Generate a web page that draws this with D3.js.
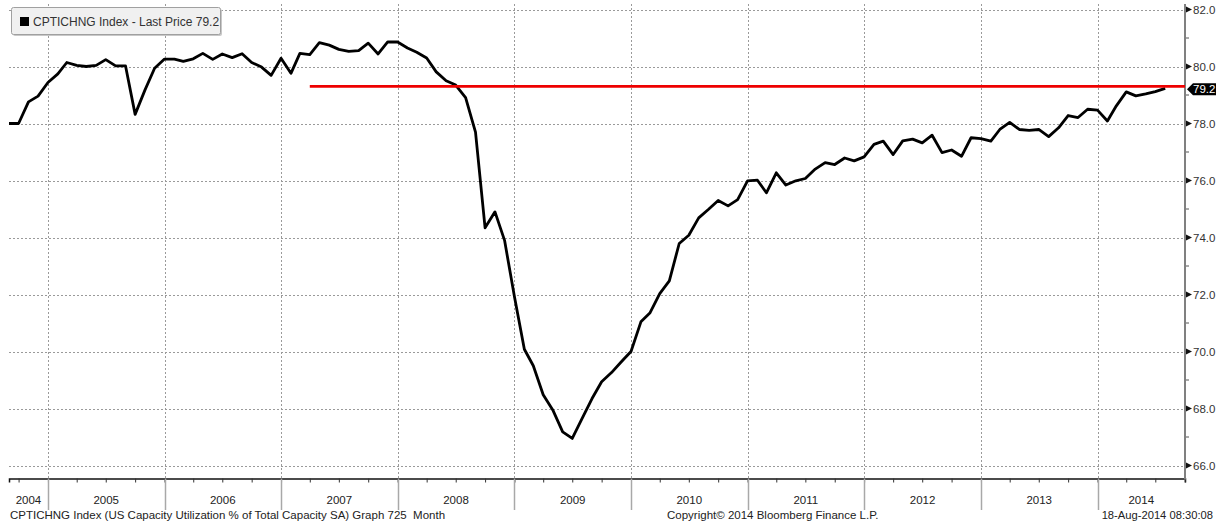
<!DOCTYPE html>
<html>
<head>
<meta charset="utf-8">
<script src="https://cdn.jsdelivr.net/npm/d3@7"></script>
<style>
  html, body { margin: 0; padding: 0; background: #fff; }
  svg { display: block; font-family: "Liberation Sans", Arial, sans-serif; }
  .footer { white-space: pre; }
</style>
</head>
<body>
<svg id="chart" width="1216" height="521"></svg>
<script>
// --- data (monthly, plotted at month boundaries as on the terminal) ---
const firstMonth = "2004-09";
const capUtil = [
  78.0, 78.0, 78.76, 78.96,
  79.44, 79.74, 80.14, 80.04, 80.0, 80.04, 80.24, 80.02, 80.02, 78.32, 79.18, 79.94,
  80.26, 80.26, 80.18, 80.27, 80.46, 80.25, 80.44, 80.31, 80.45, 80.14, 79.98, 79.69,
  80.29, 79.76, 80.46, 80.42, 80.84, 80.75, 80.6, 80.53, 80.56, 80.82, 80.44, 80.86,
  80.86, 80.65, 80.5, 80.3, 79.81, 79.5, 79.35, 78.91, 77.7, 74.34, 74.9, 73.9,
  71.92, 70.08, 69.5, 68.48, 67.95, 67.18, 66.95, 67.65, 68.35, 68.94, 69.26, 69.63,
  70.0, 71.04, 71.35, 72.03, 72.48, 73.79, 74.08, 74.69, 74.99, 75.3, 75.11, 75.33,
  75.99, 76.01, 75.57, 76.27, 75.84, 75.99, 76.07, 76.4, 76.63, 76.56, 76.79, 76.69,
  76.83, 77.27, 77.38, 76.91, 77.39, 77.45, 77.32, 77.59, 76.98, 77.07, 76.85, 77.5,
  77.47, 77.38, 77.79, 78.04, 77.79, 77.76, 77.79, 77.54, 77.85, 78.28, 78.21, 78.5,
  78.47, 78.09, 78.62, 79.11, 78.97, 79.04, 79.12, 79.23
];
const yTicks = [66, 68, 70, 72, 74, 76, 78, 80, 82];
const yMinorTicks = [67, 69, 71, 73, 75, 77, 79, 81];
const yearLabels = ["2004", "2005", "2006", "2007", "2008", "2009", "2010", "2011", "2012", "2013", "2014"];
const lastPrice = 79.2;
const redLineLevel = 79.3;
const redLineFrom = "2007-04";
const legendText = "CPTICHNG Index - Last Price 79.2";
const footerLeft = "CPTICHNG Index (US Capacity Utilization % of Total Capacity SA) Graph 725  Month";
const footerMid = "Copyright\u00A9 2014 Bloomberg Finance L.P.";
const footerRight = "18-Aug-2014 08:30:08";

// --- layout ---
const plot = { left: 9, right: 1185, top: 4, bottom: 478.5 };
const parseMonth = d3.timeParse("%Y-%m");
const start = parseMonth(firstMonth);
const dates = d3.timeMonth.range(start, d3.timeMonth.offset(start, capUtil.length));
const series = dates.map((d, i) => ({ date: d, v: capUtil[i] }));

const x = d3.scaleTime()
  .domain([new Date(2004, 8, 1), new Date(2014, 9, 2)])
  .range([plot.left, plot.right]);
const y = d3.scaleLinear()
  .domain([66, 82])
  .range([465.5, 9.5]);

const svg = d3.select("#chart");

// gridlines
const yearStarts = yearLabels.slice(1).map(s => parseMonth(s + "-01"));
svg.append("g").selectAll("line")
  .data(yTicks)
  .join("line")
  .attr("x1", plot.left).attr("x2", plot.right)
  .attr("y1", d => Math.round(y(d)) + 0.5).attr("y2", d => Math.round(y(d)) + 0.5)
  .attr("stroke", "#9a9a9a").attr("stroke-dasharray", "2,2");
svg.append("g").selectAll("line")
  .data(yearStarts)
  .join("line")
  .attr("x1", d => Math.round(x(d)) + 0.5).attr("x2", d => Math.round(x(d)) + 0.5)
  .attr("y1", plot.top).attr("y2", plot.bottom)
  .attr("stroke", "#9a9a9a").attr("stroke-dasharray", "2,2");

// x axis: quarterly ticks
const xAxis = d3.axisBottom(x)
  .tickValues(d3.timeMonth.every(3).range(new Date(2004, 9, 1), new Date(2014, 10, 1)))
  .tickSize(4)
  .tickFormat("");
const gx = svg.append("g")
  .attr("transform", `translate(0,${plot.bottom})`)
  .call(xAxis);
gx.select(".domain").attr("stroke", "#111").attr("stroke-width", 1.5);
gx.selectAll(".tick line").attr("stroke", "#333");

// year separators and labels
svg.append("g").selectAll("line")
  .data(yearStarts)
  .join("line")
  .attr("x1", d => Math.round(x(d)) + 0.5).attr("x2", d => Math.round(x(d)) + 0.5)
  .attr("y1", plot.bottom).attr("y2", 510)
  .attr("stroke", "#a8a8a8").attr("stroke-width", 1.5);
svg.append("g").selectAll("text")
  .data(yearLabels)
  .join("text")
  .attr("x", d => {
    const a = Math.max(x(parseMonth(d + "-01")), plot.left);
    const b = Math.min(x(parseMonth((+d + 1) + "-01")), plot.right);
    return (a + b) / 2;
  })
  .attr("y", 504)
  .attr("text-anchor", "middle")
  .attr("font-size", 11.5)
  .attr("fill", "#222")
  .text(d => d);

// right y axis
const yAxis = d3.axisRight(y).tickValues(yTicks).tickSize(0).tickPadding(8)
  .tickFormat(d3.format(".1f"));
const gy = svg.append("g")
  .attr("transform", `translate(${plot.right},0)`)
  .call(yAxis);
gy.select(".domain").remove();
gy.selectAll(".tick text").attr("font-size", 11.5).attr("fill", "#333")
  .attr("font-family", "\"Liberation Sans\", Arial, sans-serif");
svg.append("line")
  .attr("x1", plot.right).attr("x2", plot.right)
  .attr("y1", plot.top).attr("y2", plot.bottom + 1)
  .attr("stroke", "#808080").attr("stroke-width", 2);
svg.append("g").selectAll("path")
  .data(yTicks)
  .join("path")
  .attr("d", d => { const c = y(d); return `M${plot.right + 1},${c - 3}L${plot.right + 7},${c}L${plot.right + 1},${c + 3}Z`; })
  .attr("fill", "#111");
svg.append("g").selectAll("line")
  .data(yMinorTicks)
  .join("line")
  .attr("x1", plot.right + 1).attr("x2", plot.right + 4)
  .attr("y1", d => y(d)).attr("y2", d => y(d))
  .attr("stroke", "#555");

// series
const line = d3.line().x(d => x(d.date)).y(d => y(d.v));
svg.append("path")
  .datum(series)
  .attr("d", line)
  .attr("fill", "none")
  .attr("stroke", "#000")
  .attr("stroke-width", 2.8)
  .attr("stroke-linejoin", "round");

// red reference line
svg.append("line")
  .attr("x1", x(parseMonth(redLineFrom))).attr("x2", plot.right)
  .attr("y1", y(redLineLevel)).attr("y2", y(redLineLevel))
  .attr("stroke", "#ee0000").attr("stroke-width", 2.8);

// last price tag
const ty = y(lastPrice);
svg.append("path")
  .attr("d", `M${plot.right + 2},${ty}L${plot.right + 8},${ty - 6}L1216,${ty - 6}L1216,${ty + 6}L${plot.right + 8},${ty + 6}Z`)
  .attr("fill", "#000");
svg.append("text")
  .attr("x", plot.right + 8).attr("y", ty + 4)
  .attr("font-size", 11.5).attr("fill", "#fff")
  .text(d3.format(".1f")(lastPrice));

// legend
svg.append("rect")
  .attr("x", 13).attr("y", 9).attr("width", 209).attr("height", 27)
  .attr("fill", "#c8c8c8").attr("rx", 2);
svg.append("rect")
  .attr("x", 11.5).attr("y", 7.5).attr("width", 209).attr("height", 27)
  .attr("fill", "#f0f0f0").attr("stroke", "#a0a0a0").attr("rx", 2);
svg.append("rect")
  .attr("x", 20).attr("y", 17).attr("width", 9).attr("height", 9)
  .attr("fill", "#000");
svg.append("text")
  .attr("x", 33).attr("y", 26)
  .attr("font-size", 12).attr("fill", "#333")
  .text(legendText);

// footer
svg.append("text").attr("class", "footer").attr("x", 10).attr("y", 519).attr("font-size", 11.5).attr("fill", "#222").text(footerLeft);
svg.append("text").attr("class", "footer").attr("x", 667).attr("y", 519).attr("font-size", 11.5).attr("fill", "#222").text(footerMid);
svg.append("text").attr("class", "footer").attr("x", 1213).attr("y", 519).attr("text-anchor", "end").attr("font-size", 11.2).attr("fill", "#222").text(footerRight);
</script>
</body>
</html>
